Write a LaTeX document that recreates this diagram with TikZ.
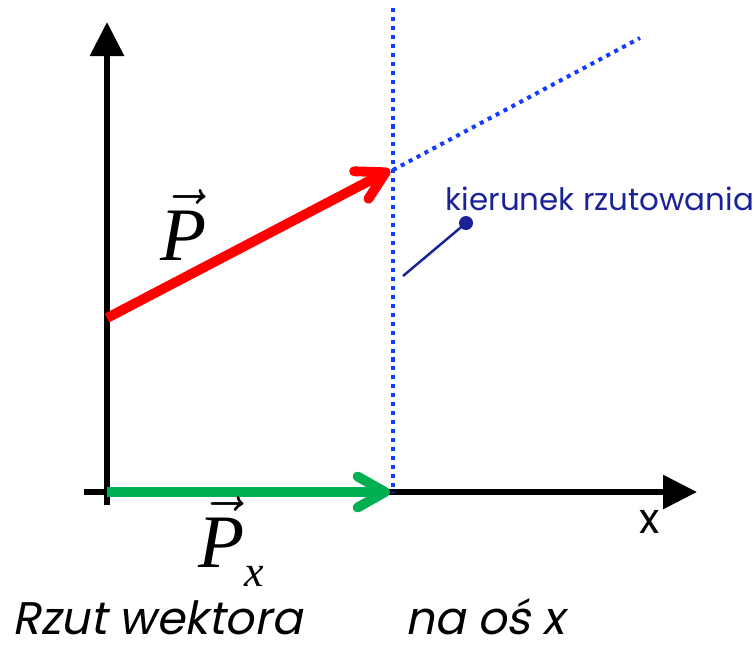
\RequirePackage{fix-cm}
\documentclass[tikz,border=0pt]{standalone}
\usepackage{fontspec}
\usetikzlibrary{arrows.meta, positioning}
\newfontfamily\gothic{Poppins}
\newfontfamily\gothicit{Poppins}[FakeSlant=0.2]
\newfontfamily\timesit{Liberation Serif Italic}
\definecolor{vecred}{RGB}{255,0,0}
\definecolor{vecgreen}{RGB}{0,176,80}
\definecolor{dotblue}{RGB}{20,60,255}
\definecolor{labelblue}{RGB}{25,35,150}

\begin{document}
\begin{tikzpicture}[x=0.02cm, y=-0.02cm]
  \tikzset{
    axis/.style={
      draw=black,
      line width=3.4pt,
      -{Triangle[length=0.68cm, width=0.66cm]}
    },
    vector/.style={
      line width=5.6pt,
      -{Straight Barb[length=0.55cm, width=0.62cm, round]}
    },
    projline/.style={
      draw=dotblue,
      line width=2.3pt,
      dash pattern=on 2.3pt off 2.8pt
    },
    bigvec/.style={
      font=\fontsize{43}{45}\selectfont,
      inner sep=0pt
    },
    caption/.style={
      font=\gothicit\fontsize{26}{28}\selectfont,
      inner sep=0pt,
      text depth=0pt,
      anchor=base west
    }
  }
  \useasboundingbox (0,0) rectangle (756,647);

  % Points
  \coordinate (origin) at (107,492);
  \coordinate (ybottom) at (107,505);
  \coordinate (ytip) at (107,22);
  \coordinate (xleft) at (84,492);
  \coordinate (xtip) at (697,492);
  \coordinate (pstart) at (107,318);
  \coordinate (ptip) at (390,170);
  \coordinate (pxtip) at (390,492);
  \coordinate (projtop) at (393,8);
  \coordinate (projfoot) at (393,492);
  \coordinate (projcross) at (393,170);
  \coordinate (projfar) at (640,38);
  \coordinate (pointer) at (403,276);

  % Axes
  \draw[axis] (ybottom) -- (ytip);
  \draw[axis] (xleft) -- (xtip);
  \node[font=\gothic\fontsize{24}{26}\selectfont, inner sep=0pt] (xlabel) at (650,522) {x};

  % Direction of projection
  \draw[projline] (projtop) -- (projfoot);
  \draw[projline] (projcross) -- (projfar);

  % Vectors
  \draw[vector, vecred] (pstart) -- (ptip);
  \draw[vector, vecgreen] (origin) -- (pxtip);

  \node[bigvec, anchor=base] (pvec) at (184,260) {$\vec{\hbox{\timesit P}}$};
  \node[bigvec, anchor=base west] (pxvec) at (198,567)
    {$\vec{\hbox{\timesit P}}$\raisebox{-11pt}{\timesit\fontsize{25}{27}\selectfont x}};

  % Label with pointer
  \node[font=\gothic\fontsize{17.6}{20}\selectfont, text=labelblue, inner sep=0pt] (lbl) at (600,199) {kierunek rzutowania};
  \node[circle, fill=labelblue, minimum size=0.28cm, inner sep=0pt] (dot) at (466,223) {};
  \draw[labelblue, line width=1.4pt] (dot.center) -- (pointer);

  % Caption
  \node[caption] (cap1) at (12,634) {Rzut wektora};
  \node[caption] (cap2) at (405,634) {na oś x};
\end{tikzpicture}
\end{document}
